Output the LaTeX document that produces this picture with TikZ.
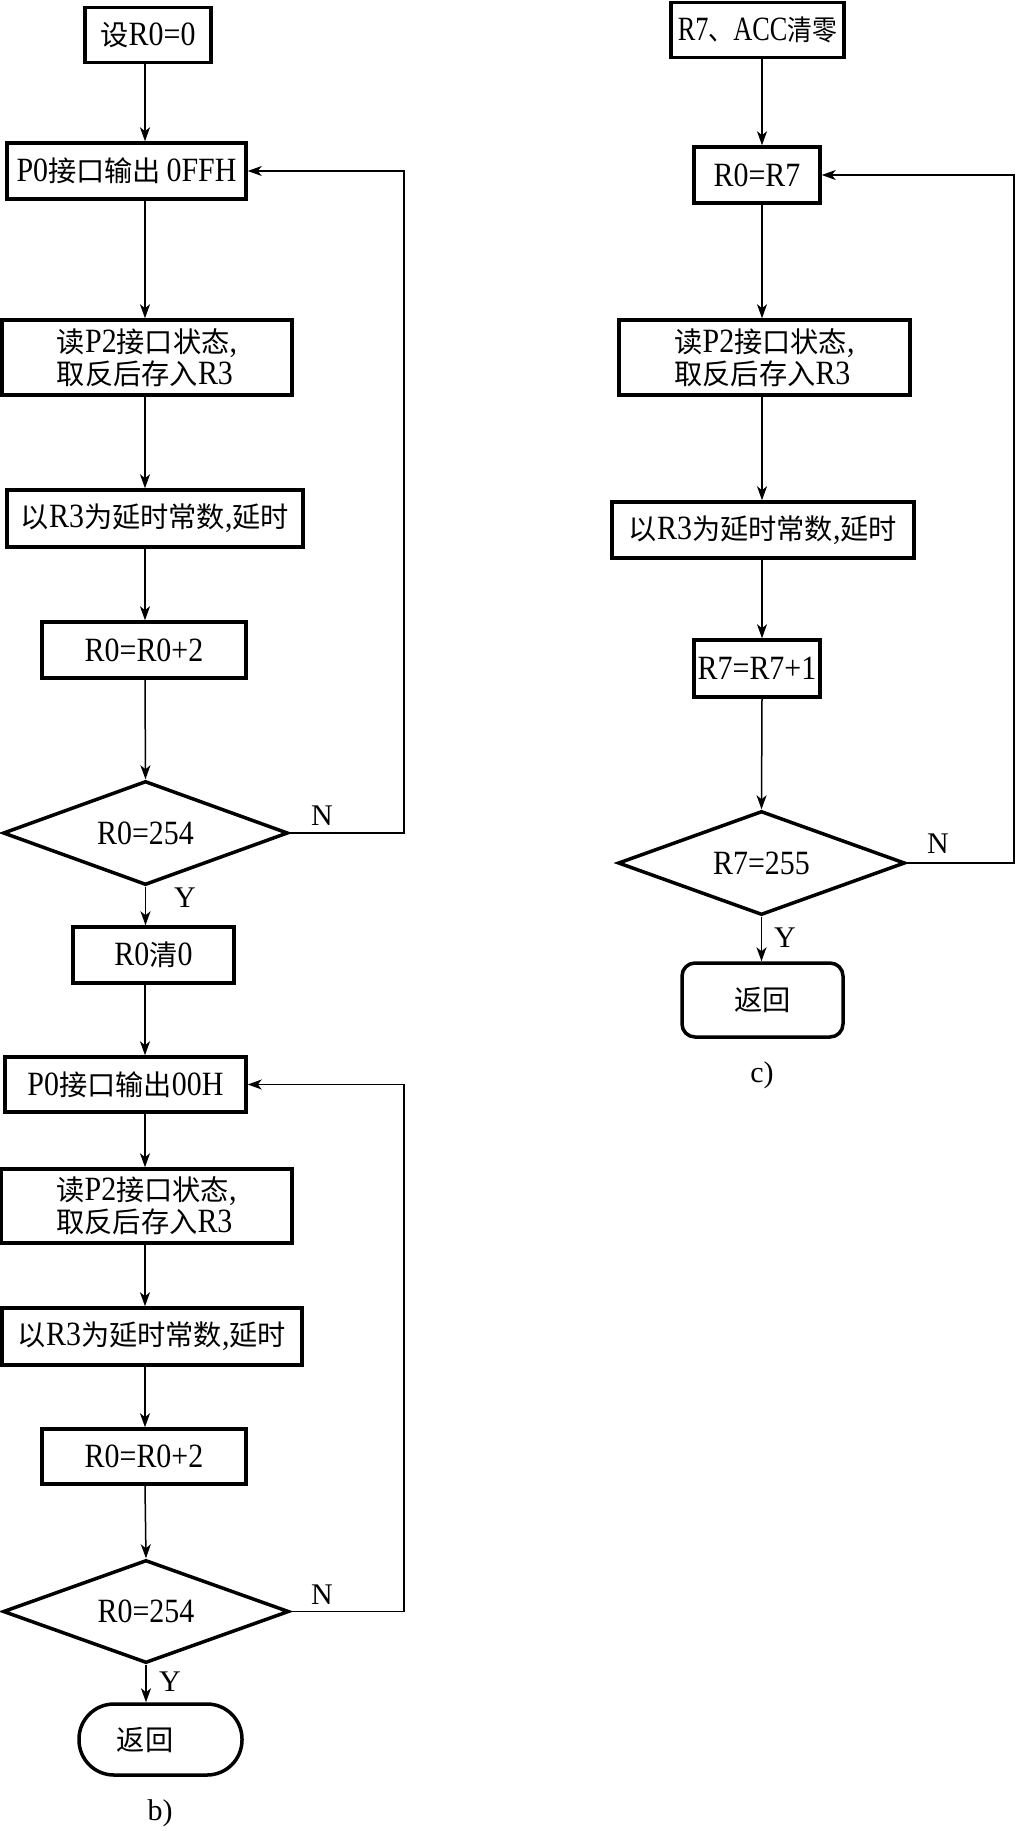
\documentclass[tikz,border=0pt]{standalone}
\usepackage{fontspec}
\usepackage{graphicx}
\setmainfont{Liberation Serif}[FakeStretch=0.88]
\newfontfamily\lblfont{Liberation Serif}
\newfontfamily\cjk{Noto Sans CJK SC}[Scale=0.83]
\usetikzlibrary{arrows.meta,shapes.geometric}
\newcommand\zht[1]{{\cjk #1}}
\begin{document}
\begin{tikzpicture}[x=1pt,y=-1pt,
  box/.style={draw, line width=3.5pt, rectangle, inner sep=0pt, font=\fontsize{34}{32}\selectfont, align=center},
  dec/.style={draw, line width=3.5pt, diamond, inner sep=0pt, aspect=2.75, font=\fontsize{34}{32}\selectfont},
  term/.style={draw, line width=3.5pt, rectangle, inner sep=0pt, font=\fontsize{34}{32}\selectfont},
  lbl/.style={font=\lblfont\fontsize{30}{32}\selectfont, inner sep=0pt},
  arr/.style={line width=1.5pt, -{Stealth[length=14pt,width=10pt,inset=4pt]}},
  ln/.style={line width=1.5pt}]
\useasboundingbox (0,0) rectangle (1016,1831);
\coordinate (axL) at (145,0);
\coordinate (axR) at (762,0);
\coordinate (loopL) at (404,0);
\coordinate (loopR) at (1014,0);

% ---------- b) ----------
\node[box, minimum width=126pt, minimum height=55pt] (A1) at (148,35) {\zht{设}R0=0};
\node[box, minimum width=239pt, minimum height=56pt] (A2) at (126.5,171) {P0\zht{接口输出}\,0FFH};
\node[box, minimum width=290pt, minimum height=75pt, align=left] (A3) at (147,357.5) {\zht{读}P2\zht{接口状态},\\\zht{取反后存入}R3};
\node[box, minimum width=296pt, minimum height=57pt] (A4) at (155,518.5) {\zht{以}R3\zht{为延时常数},\zht{延时}};
\node[box, minimum width=204pt, minimum height=56pt] (A5) at (144,650) {R0=R0+2};
\node[dec, minimum width=285pt, minimum height=104pt] (D1) at (145.5,833) {R0=254};
\node[lbl] (N1) at (322,816) {N};
\node[lbl] (Y1) at (185,898) {Y};
\node[box, minimum width=161pt, minimum height=56pt] (A6) at (153.5,955) {R0\zht{清}0};
\node[box, minimum width=241pt, minimum height=55pt] (A7) at (125.5,1084.5) {P0\zht{接口输出}00H};
\node[box, minimum width=291pt, minimum height=74pt, align=left] (A8) at (146.5,1206) {\zht{读}P2\zht{接口状态},\\\zht{取反后存入}R3};
\node[box, minimum width=300pt, minimum height=57pt] (A9) at (152,1336.5) {\zht{以}R3\zht{为延时常数},\zht{延时}};
\node[box, minimum width=204pt, minimum height=55pt] (A10) at (144,1456.5) {R0=R0+2};
\node[dec, minimum width=286pt, minimum height=103pt] (D2) at (146,1611.5) {R0=254};
\node[lbl] (N2) at (322,1595) {N};
\node[lbl] (Y2) at (170,1682) {Y};
\node[term, minimum width=163pt, minimum height=71pt, rounded corners=35pt] (T1) at (160.5,1739.5) {\hspace*{-31pt}\zht{返回}};
\node[lbl] (capB) at (160,1813) {b)};

\draw[arr] (A1.south -| axL) -- (A2.north -| axL);
\draw[arr] (A2.south -| axL) -- (A3.north -| axL);
\draw[arr] (A3.south -| axL) -- (A4.north -| axL);
\draw[arr] (A4.south -| axL) -- (A5.north -| axL);
\draw[arr] (A5.south -| axL) -- (D1.north);
\draw[arr] (D1.south) -- (A6.north -| D1.south);
\draw[arr] (A6.south -| axL) -- (A7.north -| axL);
\draw[arr] (A7.south -| axL) -- (A8.north -| axL);
\draw[arr] (A8.south -| axL) -- (A9.north -| axL);
\draw[arr] (A9.south -| axL) -- (A10.north -| axL);
\draw[arr] (A10.south -| axL) -- (D2.north);
\draw[arr] (D2.south) -- (T1.north -| D2.south);
\draw[arr] (D1.east) -- (D1.east -| loopL) |- (A2.east);
\draw[arr] (D2.east) -- (D2.east -| loopL) |- (A7.east);

% ---------- c) ----------
\node[box, minimum width=173pt, minimum height=55pt] (B1) at (757.5,30) {\scalebox{0.88}[1]{R7\zht{、}ACC\zht{清零}}};
\node[box, minimum width=126pt, minimum height=56pt] (B2) at (757,175) {R0=R7};
\node[box, minimum width=291pt, minimum height=75pt, align=left] (B3) at (764.5,357.5) {\zht{读}P2\zht{接口状态},\\\zht{取反后存入}R3};
\node[box, minimum width=302pt, minimum height=56pt] (B4) at (763,530) {\zht{以}R3\zht{为延时常数},\zht{延时}};
\node[box, minimum width=126pt, minimum height=57pt] (B5) at (757,668.5) {R7=R7+1};
\node[dec, minimum width=287pt, minimum height=104pt] (D3) at (761.5,863) {R7=255};
\node[lbl] (N3) at (938,844) {N};
\node[lbl] (Y3) at (785,938) {Y};
\node[term, minimum width=161pt, minimum height=74pt, rounded corners=13pt] (T2) at (762.5,1000) {\zht{返回}};
\node[lbl] (capC) at (762,1075) {c)};

\draw[arr] (B1.south -| axR) -- (B2.north -| axR);
\draw[arr] (B2.south -| axR) -- (B3.north -| axR);
\draw[arr] (B3.south -| axR) -- (B4.north -| axR);
\draw[arr] (B4.south -| axR) -- (B5.north -| axR);
\draw[arr] (B5.south -| axR) -- (D3.north);
\draw[arr] (D3.south) -- (T2.north -| D3.south);
\draw[arr] (D3.east) -- (D3.east -| loopR) |- (B2.east);
\end{tikzpicture}
\end{document}
